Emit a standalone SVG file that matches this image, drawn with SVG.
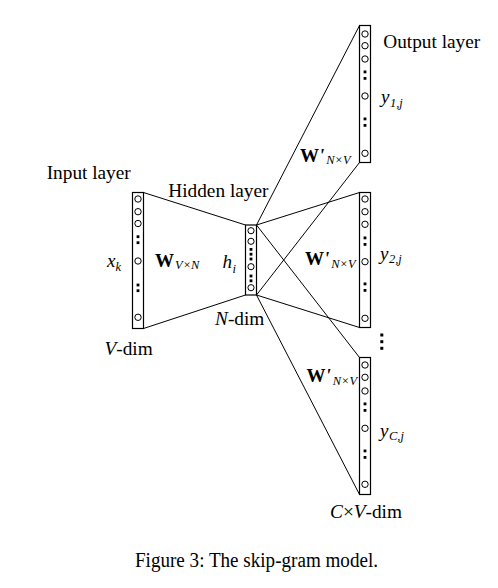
<svg xmlns="http://www.w3.org/2000/svg" width="498" height="588" viewBox="0 0 498 588">
<style>
.bg{fill:#fff}
.box{fill:#fff;stroke:#000;stroke-width:1.2}
.unit{fill:#fff;stroke:#000;stroke-width:1}
.dot{fill:#000}
.conn{stroke:#000;stroke-width:1;fill:none}
.lbl{font-family:"Liberation Serif",serif;font-size:19.3px;fill:#000}
.m{font-family:"Liberation Serif",serif;font-size:19px;font-style:italic;fill:#000}
.mb{font-family:"Liberation Serif",serif;font-size:19px;font-weight:bold;fill:#000}
.sub{font-family:"Liberation Serif",serif;font-size:12.5px;font-style:italic;font-weight:normal;fill:#000}
.pr{font-style:italic}
.cap{font-family:"Liberation Serif",serif;font-size:20.5px;fill:#000}
</style>
<rect class="bg" x="0" y="0" width="498" height="588"/>
<g id="connectors">
<line class="conn" x1="143.5" y1="192.5" x2="245.5" y2="225"/>
<line class="conn" x1="143.5" y1="328.5" x2="245.5" y2="295"/>
<line class="conn" x1="256.5" y1="225" x2="359.5" y2="25.5"/>
<line class="conn" x1="256.5" y1="225" x2="359.5" y2="192.5"/>
<line class="conn" x1="256.5" y1="225" x2="359.5" y2="357.5"/>
<line class="conn" x1="256.5" y1="295" x2="359.5" y2="162.5"/>
<line class="conn" x1="256.5" y1="295" x2="359.5" y2="327.5"/>
<line class="conn" x1="256.5" y1="295" x2="359.5" y2="494.5"/>
</g>
<g id="input-layer">
<rect class="box" x="132.5" y="192.5" width="11" height="136"/>
<circle class="unit" cx="138" cy="199" r="3.2"/>
<circle class="unit" cx="138" cy="211.7" r="3.2"/>
<circle class="unit" cx="138" cy="223.5" r="3.2"/>
<rect class="dot" x="136.6" y="235.3" width="2.8" height="2.8"/>
<rect class="dot" x="136.6" y="241.3" width="2.8" height="2.8"/>
<circle class="unit" cx="138" cy="261" r="3.2"/>
<rect class="dot" x="136.6" y="283.6" width="2.8" height="2.8"/>
<rect class="dot" x="136.6" y="289.3" width="2.8" height="2.8"/>
<circle class="unit" cx="138" cy="317.3" r="3.2"/>
<text class="lbl" x="46.7" y="179.3">Input layer</text>
<text class="m" x="107" y="266.7">x<tspan class="sub" dy="4">k</tspan></text>
<text class="lbl" x="104.5" y="355"><tspan font-style="italic">V</tspan>-dim</text>
</g>
<g id="weights-input">
<text class="mb" x="155" y="266.7" font-size="21">W<tspan class="sub" dy="2.6" dx="1">V×N</tspan></text>
</g>
<g id="hidden-layer">
<rect class="box" x="245.5" y="225" width="11" height="70"/>
<circle class="unit" cx="251" cy="230.7" r="3.1"/>
<circle class="unit" cx="251" cy="241.3" r="3.1"/>
<rect class="dot" x="249.6" y="248" width="2.8" height="2.8"/>
<rect class="dot" x="249.6" y="252.8" width="2.8" height="2.8"/>
<rect class="dot" x="249.6" y="257.6" width="2.8" height="2.8"/>
<circle class="unit" cx="251" cy="266.7" r="3.1"/>
<rect class="dot" x="249.6" y="274.6" width="2.8" height="2.8"/>
<rect class="dot" x="249.6" y="279.4" width="2.8" height="2.8"/>
<circle class="unit" cx="251" cy="287.7" r="3.1"/>
<text class="lbl" x="168.3" y="196.7">Hidden layer</text>
<text class="m" x="222.5" y="268.3">h<tspan class="sub" dy="4.5" dx="0.5">i</tspan></text>
<text class="lbl" x="215" y="325"><tspan font-style="italic">N</tspan>-dim</text>
</g>
<g id="output-layer-1">
<rect class="box" x="359.5" y="25.5" width="11" height="137"/>
<circle class="unit" cx="365" cy="34" r="3.2"/>
<circle class="unit" cx="365" cy="45.7" r="3.2"/>
<circle class="unit" cx="365" cy="59" r="3.2"/>
<rect class="dot" x="363.6" y="70.5" width="2.8" height="2.8"/>
<rect class="dot" x="363.6" y="77" width="2.8" height="2.8"/>
<circle class="unit" cx="365" cy="96" r="3.2"/>
<rect class="dot" x="363.6" y="117.5" width="2.8" height="2.8"/>
<rect class="dot" x="363.6" y="124" width="2.8" height="2.8"/>
<circle class="unit" cx="365" cy="153.3" r="3.2"/>
<text class="lbl" x="383.3" y="48.3">Output layer</text>
<text class="m" x="381" y="103">y<tspan class="sub" dy="3.5" dx="0.5">1,j</tspan></text>
<text class="mb" x="300" y="161.7">W<tspan class="pr">'</tspan><tspan class="sub" dy="1.8" dx="2">N×V</tspan></text>
</g>
<g id="output-layer-2">
<rect class="box" x="359.5" y="192.5" width="11" height="135"/>
<circle class="unit" cx="365" cy="199" r="3.2"/>
<circle class="unit" cx="365" cy="211.7" r="3.2"/>
<circle class="unit" cx="365" cy="224.3" r="3.2"/>
<rect class="dot" x="363.6" y="236.5" width="2.8" height="2.8"/>
<rect class="dot" x="363.6" y="243" width="2.8" height="2.8"/>
<circle class="unit" cx="365" cy="261.7" r="3.2"/>
<rect class="dot" x="363.6" y="282.5" width="2.8" height="2.8"/>
<rect class="dot" x="363.6" y="289" width="2.8" height="2.8"/>
<circle class="unit" cx="365" cy="318.3" r="3.2"/>
<text class="m" x="380" y="259.5">y<tspan class="sub" dy="3.5" dx="0.5">2,j</tspan></text>
<text class="mb" x="305" y="265">W<tspan class="pr">'</tspan><tspan class="sub" dy="3" dx="2">N×V</tspan></text>
</g>
<g id="ellipsis">
<rect class="dot" x="380.3" y="333.5" width="3" height="3"/>
<rect class="dot" x="380.3" y="340.2" width="3" height="3"/>
<rect class="dot" x="380.3" y="346.8" width="3" height="3"/>
</g>
<g id="output-layer-C">
<rect class="box" x="359.5" y="357.5" width="11" height="137"/>
<circle class="unit" cx="365" cy="365" r="3.2"/>
<circle class="unit" cx="365" cy="377.3" r="3.2"/>
<circle class="unit" cx="365" cy="391" r="3.2"/>
<rect class="dot" x="363.6" y="402.5" width="2.8" height="2.8"/>
<rect class="dot" x="363.6" y="409" width="2.8" height="2.8"/>
<circle class="unit" cx="365" cy="428.3" r="3.2"/>
<rect class="dot" x="363.6" y="449.5" width="2.8" height="2.8"/>
<rect class="dot" x="363.6" y="456" width="2.8" height="2.8"/>
<circle class="unit" cx="365" cy="484.3" r="3.2"/>
<text class="m" x="380" y="436.7">y<tspan class="sub" dy="3.5" dx="0.5">C,j</tspan></text>
<text class="mb" x="306.5" y="381.7">W<tspan class="pr">'</tspan><tspan class="sub" dy="3" dx="2">N×V</tspan></text>
<text class="lbl" x="330" y="518.3"><tspan font-style="italic">C</tspan>×<tspan font-style="italic">V</tspan>-dim</text>
</g>
<text class="cap" x="135" y="566.5" textLength="243" lengthAdjust="spacingAndGlyphs">Figure 3: The skip-gram model.</text>
</svg>
